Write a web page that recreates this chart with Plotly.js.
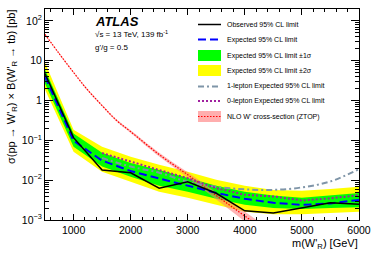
<!DOCTYPE html>
<html><head><meta charset="utf-8">
<script src="https://cdn.plot.ly/plotly-3.0.1.min.js"></script>
<style>html,body{margin:0;padding:0;background:#fff}#plot{width:374px;height:253px}</style>
</head><body><div id="plot"></div>
<script>
// ---- data ----
const mass = [500,1000,1500,2000,2500,3000,3500,4000,4500,5000,5500,6000];
const observed = [4.8,0.117,0.018,0.0154,0.0063,0.0091,0.0047,0.0017,0.0015,0.0020,0.0027,0.0025];
const expected = [4.0,0.098,0.031,0.017,0.011,0.0072,0.0048,0.0034,0.0027,0.0024,0.0026,0.0032];
const oneSigUp = [6.0,0.148,0.049,0.027,0.018,0.0115,0.0072,0.0051,0.0041,0.0036,0.0041,0.0048];
const oneSigDn = [2.7,0.069,0.022,0.0122,0.0072,0.0051,0.0034,0.0024,0.0020,0.0019,0.0020,0.0021];
const twoSigUp = [9.0,0.186,0.069,0.039,0.0245,0.0163,0.0102,0.0072,0.0057,0.0054,0.0060,0.0068];
const twoSigDn = [1.9,0.052,0.0163,0.0091,0.0051,0.0036,0.0024,0.0016,0.0014,0.0014,0.0015,0.0016];
const massLep = [1500,2000,2500,3000,3500,4000,4500,5000,5500,6000];
const oneLepExp = [0.036,0.022,0.0154,0.0091,0.0068,0.0059,0.0057,0.0066,0.0093,0.019];
const zeroLepExp = [0.048,0.030,0.018,0.0112,0.0063,0.0043,0.0039,0.0031,0.0035,0.0042];
const massNLO = [500,750,1000,1250,1500,1750,2000,2500,3000,3500,4000,4500];
const xsecNLO = [46,15,5.1,1.82,0.75,0.32,0.166,0.044,0.0137,0.0041,0.00126,0.00039];
const xsecRelUnc = [0.04,0.04,0.04,0.05,0.05,0.06,0.08,0.11,0.15,0.2,0.27,0.32];
const yTickVals = [0.001,0.01,0.1,1,10,100];
const yTickText = ['10<sup>−3</sup>','10<sup>−2</sup>','10<sup>−1</sup>','1','10','10<sup>2</sup>'];
const legendLabels = ['Observed 95% CL limit','Expected 95% CL limit','Expected 95% CL limit ±1σ',
  'Expected 95% CL limit ±2σ','1-lepton Expected 95% CL limit','0-lepton Expected 95% CL limit',
  "NLO W' cross-section (ZTOP)"];

const FONT = 'Liberation Sans, Arial, Helvetica, sans-serif';
const W = 374, H = 253, L = 45, R = 15, T = 9, B = 33;
const pw = W - L - R, ph = H - T - B;
const px = x => (x - L) / pw;
const py = y => (H - B - y) / ph;

const C = {yellow:'#ffff00', green:'#00ff00', blue:'#0000ff', gray:'#7f95a8', purple:'#a0209f', red:'#ff0000', pink:'rgba(255,120,120,0.55)'};
const DASH = {blue:'8px,4px', gray:'6px,3px,2px,3px', purple:'2px,2px', red:'1.5px,1.5px'};

const nloUp = xsecNLO.map((v,i)=>v*(1+xsecRelUnc[i]));
const nloDn = xsecNLO.map((v,i)=>v*(1-xsecRelUnc[i]));

const traces = [
  {x:mass, y:twoSigDn, mode:'lines', line:{width:0,color:C.yellow}, showlegend:false, hoverinfo:'skip'},
  {x:mass, y:twoSigUp, mode:'lines', line:{width:0,color:C.yellow}, fill:'tonexty', fillcolor:C.yellow, showlegend:false, hoverinfo:'skip'},
  {x:mass, y:oneSigDn, mode:'lines', line:{width:0,color:C.green}, showlegend:false, hoverinfo:'skip'},
  {x:mass, y:oneSigUp, mode:'lines', line:{width:0,color:C.green}, fill:'tonexty', fillcolor:C.green, showlegend:false, hoverinfo:'skip'},
  {x:massNLO, y:nloDn, mode:'lines', line:{width:0,color:C.pink,shape:'spline'}, showlegend:false, hoverinfo:'skip'},
  {x:massNLO, y:nloUp, mode:'lines', line:{width:0,color:C.pink,shape:'spline'}, fill:'tonexty', fillcolor:C.pink, showlegend:false, hoverinfo:'skip'},
  {x:massNLO, y:xsecNLO, mode:'lines', line:{width:1.2,color:C.red,dash:DASH.red,shape:'spline'}, showlegend:false},
  {x:massLep, y:oneLepExp, mode:'lines', line:{width:2,color:C.gray,dash:DASH.gray,shape:'spline'}, showlegend:false},
  {x:massLep, y:zeroLepExp, mode:'lines', line:{width:2,color:C.purple,dash:DASH.purple}, showlegend:false},
  {x:mass, y:expected, mode:'lines', line:{width:2,color:C.blue,dash:DASH.blue}, showlegend:false},
  {x:mass, y:observed, mode:'lines', line:{width:1.5,color:'#000'}, showlegend:false}
];

// custom legend
const legRows = [24.5,39.5,55.5,70.5,86.5,101,116.5];
const sx0 = 198, sx1 = 221, tx = 225;
const shapes = [];
const lineShape = (row, color, width, dash) => ({type:'line', xref:'paper', yref:'paper',
  x0:px(sx0), x1:px(sx1), y0:py(legRows[row]), y1:py(legRows[row]), line:{color, width, dash}});
const rectShape = (row, color) => ({type:'rect', xref:'paper', yref:'paper', layer:'above',
  x0:px(sx0), x1:px(sx1), y0:py(legRows[row]-5.5), y1:py(legRows[row]+5.5), line:{width:0}, fillcolor:color});
shapes.push(lineShape(0,'#000',1.5,'solid'));
shapes.push(lineShape(1,C.blue,2,DASH.blue));
shapes.push(rectShape(2,C.green));
shapes.push(rectShape(3,C.yellow));
shapes.push(lineShape(4,C.gray,2,DASH.gray));
shapes.push(lineShape(5,C.purple,2,DASH.purple));
shapes.push(rectShape(6,'rgba(255,120,120,0.6)'));
shapes.push(lineShape(6,C.red,1.2,DASH.red));

const annotations = legendLabels.map((t,i)=>({text:t, xref:'paper', yref:'paper', x:px(tx), y:py(legRows[i]),
  xanchor:'left', yanchor:'middle', showarrow:false, font:{family:FONT,size:7,color:'#000'}}));
annotations.push({text:'<b><i>ATLAS</i></b>', xref:'paper', yref:'paper', x:px(93), y:py(21), xanchor:'left', yanchor:'middle', showarrow:false, font:{family:FONT,size:13,color:'#000'}});
annotations.push({text:'√s = 13 TeV, 139 fb<sup>-1</sup>', xref:'paper', yref:'paper', x:px(93), y:py(33.5), xanchor:'left', yanchor:'middle', showarrow:false, font:{family:FONT,size:8,color:'#000'}});
annotations.push({text:"g'/g = 0.5", xref:'paper', yref:'paper', x:px(93), y:py(47.5), xanchor:'left', yanchor:'middle', showarrow:false, font:{family:FONT,size:8,color:'#000'}});
annotations.push({text:"m(W'<sub>R</sub>) [GeV]", xref:'paper', yref:'paper', x:px(359), y:py(243.5), xanchor:'right', yanchor:'middle', borderpad:0, showarrow:false, font:{family:FONT,size:11,color:'#000'}});
annotations.push({text:"σ(pp → W'<sub>R</sub>) × B(W'<sub>R</sub> → tb) [pb]", xref:'paper', yref:'paper', x:px(12), y:py(8), xanchor:'center', yanchor:'top', textangle:-90, showarrow:false, font:{family:FONT,size:11,color:'#000'}});

const layout = {
  width:W, height:H, margin:{l:L,r:R,t:T,b:B,pad:0},
  paper_bgcolor:'#fff', plot_bgcolor:'#fff', showlegend:false,
  font:{family:FONT, size:10.5, color:'#000'},
  xaxis:{range:[500,6000], tick0:0, dtick:1000, ticks:'inside', ticklen:6, tickwidth:1, tickcolor:'#000',
    showline:true, linecolor:'#000', linewidth:1, mirror:'ticks', showgrid:false, zeroline:false,
    tickfont:{family:FONT,size:10.5}, minor:{dtick:200, ticks:'inside', ticklen:3, tickcolor:'#000', showgrid:false}},
  yaxis:{type:'log', range:[-3,2.3], tickmode:'array', tickvals:yTickVals, ticktext:yTickText,
    ticks:'inside', ticklen:8, tickwidth:1, tickcolor:'#000', showline:true, linecolor:'#000', linewidth:1,
    mirror:'ticks', showgrid:false, zeroline:false, tickfont:{family:FONT,size:10.5},
    minor:{dtick:'D1', ticks:'inside', ticklen:4, tickcolor:'#000', showgrid:false}},
  shapes, annotations
};
Plotly.newPlot('plot', traces, layout, {staticPlot:true, displayModeBar:false});
</script></body></html>
